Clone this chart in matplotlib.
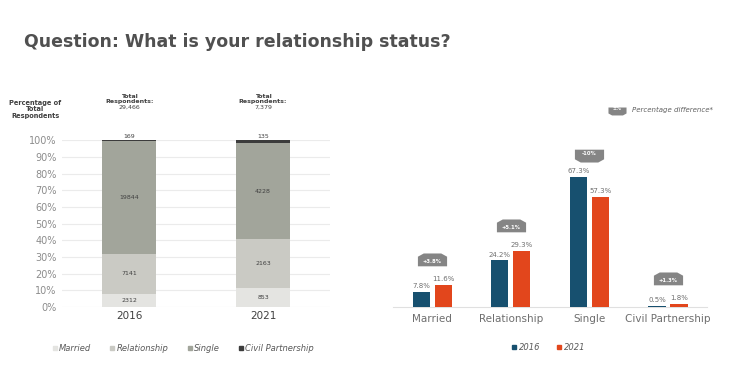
import numpy as np
import matplotlib
matplotlib.use('Agg')
import matplotlib.pyplot as plt
import matplotlib.transforms as mtransforms
from matplotlib.lines import Line2D

# left chart: respondent counts per status
years = ['2016', '2021']
statuses = ['Married', 'Relationship', 'Single', 'Civil Partnership']
married = [2312, 853]
relationship = [7141, 2163]
single = [19844, 4228]
civil = [169, 135]
totals = ['29,466', '7,379']

# right chart: percentage per status
pct_2016 = [7.8, 24.2, 67.3, 0.5]
pct_2021 = [11.6, 29.3, 57.3, 1.8]
diff_labels = ['+3.8%', '+5.1%', '-10%', '+1.3%']

stack_colors = ['#e4e4e1', '#cacac4', '#a2a59b', '#3c3c3c']
c2016 = '#17506f'
c2021 = '#e2461c'
badge_col = '#858585'

# badge shapes (box with a pointed roof / keel)
badge_up = [(-1, -0.33), (1, -0.33), (1, 0.33), (0.6, 0.55), (-0.6, 0.55), (-1, 0.33), (-1, -0.33)]
badge_down = [(x, -y) for x, y in badge_up]

fig = plt.figure(figsize=(7.5, 3.83), dpi=100)
fig.text(0.032, 0.89, 'Question: What is your relationship status?', fontsize=12.5,
         fontweight='bold', color='#505050', va='center')

# ---------- left stacked chart ----------
ax = fig.add_axes([0.083, 0.198, 0.357, 0.436])
counts = np.array([married, relationship, single, civil], dtype=float)
pcts = counts / counts.sum(axis=0) * 100
x = np.arange(len(years))
bottom = np.zeros(len(years))
for i, name in enumerate(statuses):
    ax.bar(x, pcts[i], 0.4, bottom=bottom, color=stack_colors[i], zorder=3, label=name)
    for j in range(len(years)):
        if i < 3:
            ax.text(x[j], bottom[j] + pcts[i][j] / 2, str(int(counts[i][j])), ha='center',
                    va='center', fontsize=4.5, color='#404040', zorder=4)
        else:
            ax.text(x[j], 100.6, str(int(counts[i][j])), ha='center', va='bottom',
                    fontsize=4.5, color='#404040', zorder=4)
    bottom += pcts[i]

ax.set_xlim(-0.5, 1.5)
ax.set_ylim(0, 100)
ax.set_yticks(np.arange(0, 101, 10))
ax.set_yticklabels([f'{v}%' for v in range(0, 101, 10)])
ax.set_xticks(x)
ax.set_xticklabels(years)
ax.tick_params(axis='y', length=0, labelsize=7, labelcolor='#8c8c8c', pad=4)
ax.tick_params(axis='x', length=0, labelsize=7.5, labelcolor='#404040', pad=3)
ax.grid(axis='y', color='#ebebeb', lw=0.8, zorder=0)
for s in ax.spines.values():
    s.set_visible(False)
for j in range(len(years)):
    ax.text(x[j], 121.5, 'Total\nRespondents:', ha='center', va='bottom', fontsize=4.5,
            fontweight='bold', color='#404040', linespacing=1.05)
    ax.text(x[j], 121, totals[j], ha='center', va='top', fontsize=4.5, color='#404040')
ax.text(-0.70, 118.5, 'Percentage of\nTotal\nRespondents', ha='center', va='center',
        fontsize=4.8, fontweight='bold', color='#404040', linespacing=1.05, clip_on=False)

handles = [Line2D([], [], marker='s', ms=3, ls='none', color=c) for c in stack_colors]
fig.legend(handles, statuses, loc='center', bbox_to_anchor=(0.243, 0.09), ncol=4,
           frameon=False, prop={'size': 6, 'style': 'italic'}, labelcolor='#595959',
           handletextpad=0.05, columnspacing=2.0, handlelength=1.0)

# ---------- right grouped chart ----------
ax2 = fig.add_axes([0.524, 0.198, 0.419, 0.554])
xs = np.arange(len(statuses))
off = 0.14
w = 0.22
ax2.bar(xs - off, pct_2016, w, color=c2016, label='2016', zorder=3)
ax2.bar(xs + off, pct_2021, w, color=c2021, label='2021', zorder=3)
for i in range(len(statuses)):
    ax2.text(xs[i] - off, pct_2016[i] + 1.5, f'{pct_2016[i]}%', ha='center', va='bottom',
             fontsize=5, color='#707070')
    ax2.text(xs[i] + off, pct_2021[i] + 1.5, f'{pct_2021[i]}%', ha='center', va='bottom',
             fontsize=5, color='#707070')
    top = max(pct_2016[i], pct_2021[i])
    neg = diff_labels[i].startswith('-')
    dy = 17
    tr = mtransforms.offset_copy(ax2.transData, fig=fig, x=0, y=dy, units='points')
    ax2.plot(xs[i], top, marker=badge_down if neg else badge_up, ms=21, color=badge_col,
             mew=0, transform=tr, zorder=4, clip_on=False)
    ax2.annotate(diff_labels[i], (xs[i], top), xytext=(0, dy), textcoords='offset points',
                 ha='center', va='center', fontsize=3.8, fontweight='bold', color='white',
                 zorder=5)
ax2.set_xlim(-0.5, 3.5)
ax2.set_ylim(0, 110)
ax2.set_xticks(xs)
ax2.set_xticklabels(statuses)
ax2.tick_params(axis='x', length=0, labelsize=7.5, labelcolor='#6e6e6e', pad=5)
ax2.set_yticks([])
for k, s in ax2.spines.items():
    s.set_visible(k == 'bottom')
ax2.spines['bottom'].set_color('#e0e0e0')
ax2.spines['bottom'].set_linewidth(0.8)
ax2.grid(False)

# legend for percentage difference badge
fig.add_artist(Line2D([0.822], [0.714], marker=badge_down, ms=13, color=badge_col, mew=0,
                      transform=fig.transFigure))
fig.text(0.822, 0.716, '±%', fontsize=3.5, fontweight='bold', color='white', ha='center',
         va='center')
fig.text(0.843, 0.714, 'Percentage difference*', fontsize=5, style='italic',
         color='#606060', va='center')

handles2 = [Line2D([], [], marker='s', ms=3, ls='none', color=c) for c in [c2016, c2021]]
fig.legend(handles2, ['2016', '2021'], loc='center', bbox_to_anchor=(0.73, 0.093), ncol=2,
           frameon=False, prop={'size': 6, 'style': 'italic'}, labelcolor='#595959',
           handletextpad=0.05, columnspacing=1.8, handlelength=1.0)

fig.savefig('out.png', dpi=100, facecolor='white')
